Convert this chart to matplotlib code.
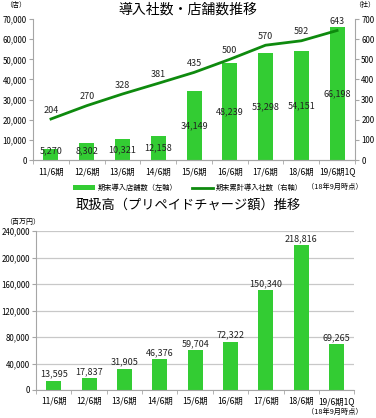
import numpy as np
import matplotlib.pyplot as plt
from matplotlib.ticker import FuncFormatter, MultipleLocator

plt.rcParams['font.family'] = ['Noto Sans CJK JP', 'DejaVu Sans']

# データ
kikan = ["11/6期", "12/6期", "13/6期", "14/6期", "15/6期", "16/6期", "17/6期", "18/6期", "19/6期1Q"]
tenpo = [5270, 8302, 10321, 12158, 34149, 48239, 53298, 54151, 66198]
shasu = [204, 270, 328, 381, 435, 500, 570, 592, 643]
toriatsukai = [13595, 17837, 31905, 46376, 59704, 72322, 150340, 218816, 69265]

bar_c = '#33cc33'
line_c = '#0e8a0e'
axis_c = '#a6a6a6'
fmt = FuncFormatter(lambda v, p: f"{int(v):,}")

fig = plt.figure(figsize=(3.76, 4.18), dpi=100)
x = np.arange(len(kikan))

# ---- 上のグラフ ----
ax1 = fig.add_axes([0.088, 0.617, 0.856, 0.3375])
ax1.bar(x, tenpo, width=0.42, color=bar_c, label="期末導入店舗数（左軸）", zorder=2)
ax1.set_xlim(-0.5, len(kikan) - 0.5)
ax1.set_ylim(0, 70000)
ax1.yaxis.set_major_locator(MultipleLocator(10000))
ax1.yaxis.set_major_formatter(fmt)
for i, v in enumerate(tenpo):
    ax1.text(i, max(v / 2, 4800), f"{v:,}", ha='center', va='center', fontsize=6.5, color='#222222', zorder=5)

ax2 = ax1.twinx()
ax2.plot(x, shasu, color=line_c, lw=2, label="期末累計導入社数（右軸）", zorder=3)
ax2.set_ylim(0, 700)
ax2.yaxis.set_major_locator(MultipleLocator(100))
for i, v in enumerate(shasu):
    ax2.text(i, v + 22, str(v), ha='center', va='bottom', fontsize=6.5, color='#222222')

for a in (ax1, ax2):
    a.spines['top'].set_visible(False)
    for s in ('left', 'right', 'bottom'):
        a.spines[s].set_color(axis_c)
    a.tick_params(axis='y', labelsize=5.7, color=axis_c, length=3, pad=1.5)
ax2.spines['left'].set_visible(False)
ax1.spines['right'].set_visible(False)
ax1.set_xticks(x)
ax1.set_xticklabels(kikan, fontsize=6)
ax1.set_xticks(np.arange(-0.5, len(kikan)), minor=True)
ax1.tick_params(axis='x', which='major', length=0, pad=5)
ax1.tick_params(axis='x', which='minor', length=3, color=axis_c)

fig.text(0.5, 0.978, "導入社数・店舗数推移", ha='center', va='center', fontsize=10)
fig.text(0.013, 0.988, "（店）", ha='left', va='center', fontsize=5)
fig.text(0.998, 0.988, "（社）", ha='right', va='center', fontsize=5)
h1, l1 = ax1.get_legend_handles_labels()
h2, l2 = ax2.get_legend_handles_labels()
fig.legend(h1 + h2, l1 + l2, loc='center', bbox_to_anchor=(0.5, 0.55), ncol=2,
           frameon=False, fontsize=5.2, handlelength=3, columnspacing=2, handletextpad=0.4)
fig.text(0.965, 0.552, "（18年9月時点）", ha='right', va='center', fontsize=5.2)

# ---- 下のグラフ ----
ax3 = fig.add_axes([0.096, 0.067, 0.846, 0.380])
ax3.bar(x, toriatsukai, width=0.43, color=bar_c, zorder=2)
ax3.set_xlim(-0.5, len(kikan) - 0.5)
ax3.set_ylim(0, 240000)
ax3.yaxis.set_major_locator(MultipleLocator(40000))
ax3.yaxis.set_major_formatter(fmt)
ax3.grid(axis='y', color='#c8c8c8', lw=0.9, zorder=0)
for i, v in enumerate(toriatsukai):
    ax3.text(i, v + 3500, f"{v:,}", ha='center', va='bottom', fontsize=6.5, color='#222222')
for s in ('top', 'right'):
    ax3.spines[s].set_visible(False)
for s in ('left', 'bottom'):
    ax3.spines[s].set_color(axis_c)
ax3.tick_params(axis='y', labelsize=5.7, color=axis_c, length=3, pad=1.5)
ax3.set_xticks(x)
ax3.set_xticklabels(kikan, fontsize=6)
ax3.set_xticks(np.arange(-0.5, len(kikan)), minor=True)
ax3.tick_params(axis='x', which='major', length=0, pad=5)
ax3.tick_params(axis='x', which='minor', length=3, color=axis_c)

fig.text(0.5, 0.51, "取扱高（プリペイドチャージ額）推移", ha='center', va='center', fontsize=9.5)
fig.text(0.013, 0.468, "（百万円）", ha='left', va='center', fontsize=5)
fig.text(0.965, 0.014, "（18年9月時点）", ha='right', va='center', fontsize=5.2)

fig.savefig("out.png", dpi=100)
